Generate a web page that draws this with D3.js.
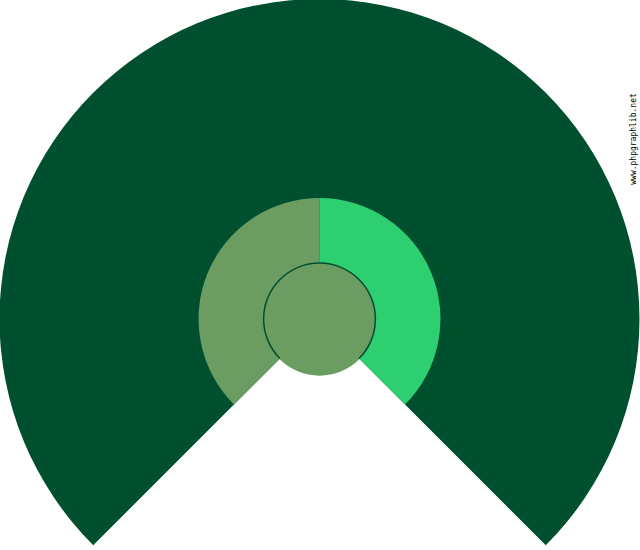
<!DOCTYPE html>
<html>
<head>
<meta charset="utf-8">
<script src="https://cdn.jsdelivr.net/npm/d3@7"></script>
<style>
  html, body { margin: 0; padding: 0; background: #fff; }
</style>
</head>
<body>
<div id="chart"></div>
<script>
// rings from outside in, each a list of slices
const outerLabels = ['Total'];
const outerValues = [100];
const innerLabels = ['A', 'B'];
const innerValues = [50, 50];
const coreLabels = ['Core'];
const coreValues = [100];

const W = 640, H = 550;
const cx = 319.5, cy = 319;
const sweep = [-3 * Math.PI / 4, 3 * Math.PI / 4];

const svg = d3.select('#chart').append('svg').attr('width', W).attr('height', H);
const g = svg.append('g').attr('transform', `translate(${cx},${cy})`);

const pie = d3.pie().sort(null).startAngle(sweep[0]).endAngle(sweep[1]);
const rScale = d3.scaleLinear().domain([0, 1]).range([0, 320]);

// outer ring
g.append('g').selectAll('path').data(pie(outerValues)).join('path')
  .attr('d', d3.arc().innerRadius(0).outerRadius(rScale(1)))
  .attr('fill', '#00502f');

// middle ring
const innerColors = d3.scaleOrdinal().domain(innerLabels).range(['#6b9d63', '#2ecf71']);
g.append('g').selectAll('path').data(pie(innerValues)).join('path')
  .attr('d', d3.arc().innerRadius(0).outerRadius(rScale(0.378)))
  .attr('fill', (d, i) => innerColors(innerLabels[i]));

// core disc with outline over the drawn sweep
g.append('circle').attr('r', rScale(0.177)).attr('fill', '#6b9d63');
g.append('g').selectAll('path').data(pie(coreValues)).join('path')
  .attr('d', d3.arc().innerRadius(rScale(0.177) - 1.5).outerRadius(rScale(0.177)))
  .attr('fill', '#00502f');

svg.append('text')
  .attr('transform', `translate(636,139) rotate(-90)`)
  .attr('text-anchor', 'middle')
  .style('font-family', 'DejaVu Sans Mono, monospace')
  .style('font-size', '8px')
  .attr('fill', '#000')
  .text('www.phpgraphlib.net');
</script>
</body>
</html>
